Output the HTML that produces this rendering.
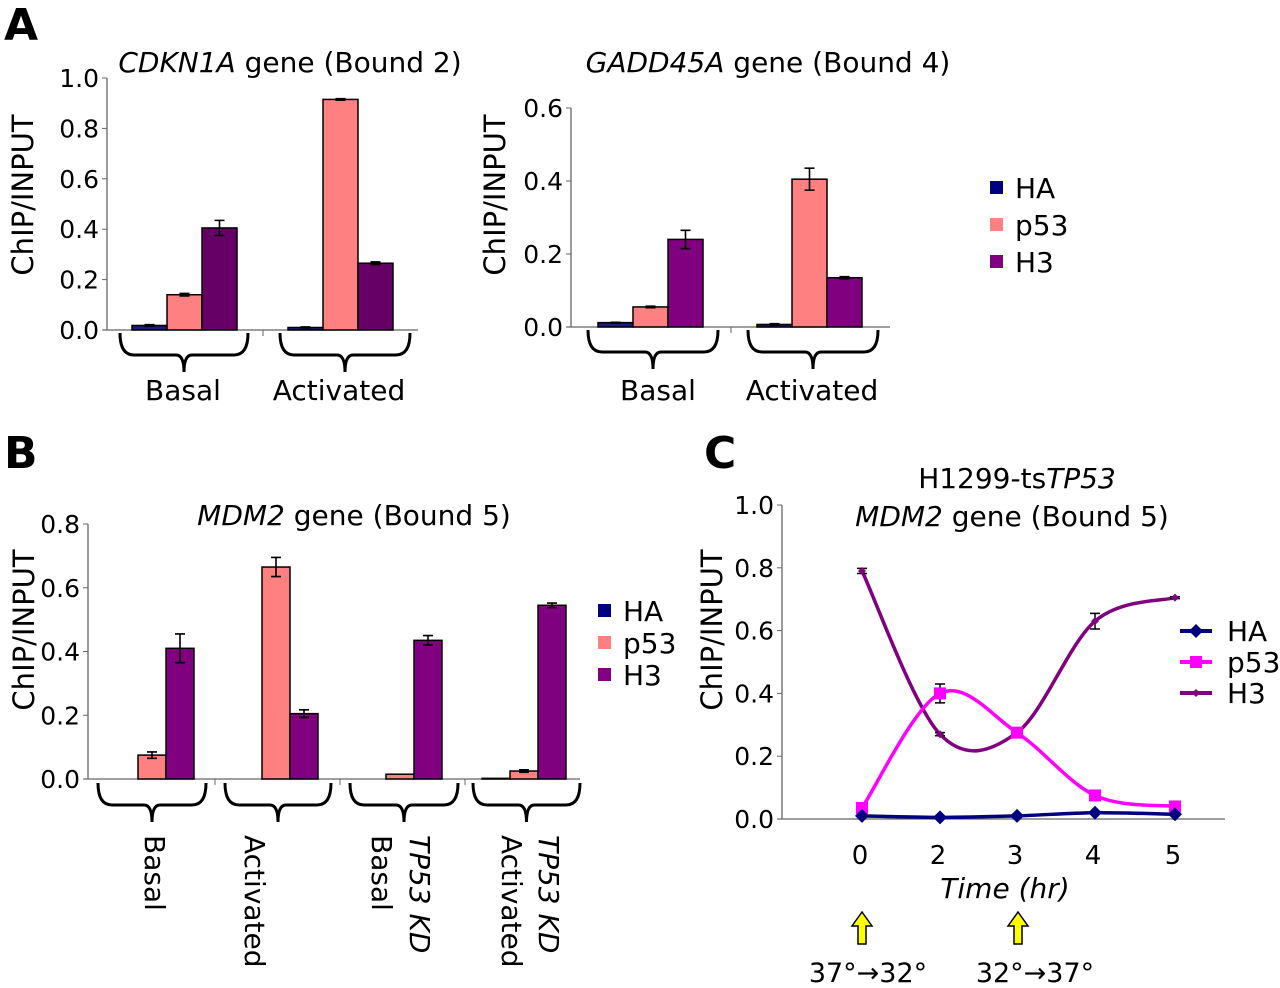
<!DOCTYPE html>
<html><head><meta charset="utf-8"><style>
body{margin:0;background:#fff}
svg{display:block;font-family:"DejaVu Sans","Liberation Sans",sans-serif}
</style></head><body>
<svg id="s" width="1280" height="988" viewBox="0 0 1280 988" xmlns="http://www.w3.org/2000/svg">
<text x="4" y="40" font-size="44" font-weight="bold">A</text>
<text x="4" y="468" font-size="44" font-weight="bold">B</text>
<text x="704" y="468" font-size="44" font-weight="bold">C</text>
</svg>
<script>
const groupsA=["Basal","Activated"];
const seriesNames=["HA","p53","H3"];
const cdknHA=[0.018,0.01], cdknP53=[0.14,0.915], cdknH3=[0.405,0.265];
const cdknErrP53=[0.005,0.003], cdknErrH3=[0.03,0.005], cdknErrHA=[0.003,0.002];
const gaddHA=[0.012,0.007], gaddP53=[0.055,0.405], gaddH3=[0.24,0.135];
const gaddErrHA=[0.001,0.002], gaddErrP53=[0.002,0.03], gaddErrH3=[0.025,0.003];
const groupsB=["Basal","Activated","TP53 KD Basal","TP53 KD Activated"];
const mdmHA=[0,0,0,0.002], mdmP53=[0.075,0.665,0.015,0.025], mdmH3=[0.41,0.205,0.435,0.545];
const mdmErrHA=[0,0,0,0], mdmErrP53=[0.01,0.03,0,0.004], mdmErrH3=[0.045,0.012,0.015,0.007];
const ticksA1=["0.0","0.2","0.4","0.6","0.8","1.0"];
const ticksA2=["0.0","0.2","0.4","0.6"];
const ticksB=["0.0","0.2","0.4","0.6","0.8"];
const timeLabels=["0","2","3","4","5"];
const lineHA=[0.01,0.005,0.01,0.02,0.015];
const lineP53=[0.035,0.40,0.275,0.075,0.04];
const lineH3=[0.79,0.27,0.275,0.63,0.705];
const errP53=[0.01,0.03,0.01,0.005,0.005];
const errH3=[0.008,0.005,0.015,0.025,0.003];

const S=document.getElementById('s');const NS="http://www.w3.org/2000/svg";
function el(t,a,p){const e=document.createElementNS(NS,t);for(const k in a)e.setAttribute(k,a[k]);(p||S).appendChild(e);return e;}
function txt(x,y,s,sz,extra){const e=el('text',Object.assign({x:x,y:y,'font-size':sz},extra||{}));e.textContent=s;return e;}

function axisY(ax,y0,y1,ticks,max,xEnd,name,labX,labY){
  const g=el('g',{});
  
  
  el('line',{x1:ax,y1:y0,x2:ax,y2:y1,stroke:'#666','stroke-width':1.3},g);
  el('line',{x1:ax-4,y1:y0,x2:xEnd,y2:y0,stroke:'#666','stroke-width':1.3},g);
  ticks.forEach((t,i)=>{const v=parseFloat(t);const y=y0-(y0-y1)*v/max;
    el('line',{x1:ax-5,y1:y,x2:ax,y2:y,stroke:'#666'},g);
    const tt=txt(ax-8,y+9,t,25,{'text-anchor':'end'});
    
    });
  const yl=txt(0,0,'ChIP/INPUT',29,{'text-anchor':'middle',transform:`translate(${labX},${labY}) rotate(-90)`});
  
  
}
function brace(x1,x2,yt,yb){
  const m=(x1+x2)/2,ym=yt+22;
  const p=el('path',{d:`M${x1},${yt} Q${x1},${ym} ${x1+14},${ym} L${m-8},${ym} Q${m},${ym} ${m},${yb} Q${m},${ym} ${m+8},${ym} L${x2-14},${ym} Q${x2},${ym} ${x2},${yt}`,fill:'none',stroke:'#000','stroke-width':3});
  
  
}
function bars(y0,yTop,max,firstX,groupSpace,bw,series,errs,colors,name){
  series.forEach((arr,s)=>{arr.forEach((v,i)=>{
    const x=firstX+i*groupSpace+s*bw;const sc=(y0-yTop)/max;const h=v*sc;
    if(v<=0)return;
    const r=el('rect',{x:x,y:y0-h,width:bw,height:h,fill:colors[s],stroke:'#000','stroke-width':1.5});
    
    
    const e=errs[s][i];if(e>0){const cx=x+bw/2,ya=y0-(v+e)*sc,yb=y0-(v-e)*sc;
      el('path',{d:`M${cx},${ya}V${yb}M${cx-5},${ya}H${cx+5}M${cx-5},${yb}H${cx+5}`,stroke:'#000','stroke-width':1.6,fill:'none'});}
  });});
}
function legendSq(x,y,colors,sp){seriesNames.forEach((n,i)=>{
  const r=el('rect',{x:x,y:y+i*sp-7,width:13,height:13,fill:colors[i]});
  
  
  const t=txt(x+25,y+i*sp+10,n,28);
  
  });}

// Panel A left
let t=txt(290,72,'',28,{'text-anchor':'middle'});t.innerHTML='<tspan font-style="italic">CDKN1A</tspan> gene (Bound 2)';

axisY(107,330,78,ticksA1,1.0,418,'cdkn1a',33,195);
el('line',{x1:263,y1:330,x2:263,y2:336,stroke:'#666'});
bars(330,78,1.0,132,156,35,[cdknHA,cdknP53,cdknH3],[cdknErrHA,cdknErrP53,cdknErrH3],['#1a1a80','#ff8080','#660066'],'cdkn1a');
brace(120,248,333,372);brace(280,410,333,372);
groupsA.forEach((g,i)=>{const e=txt([183,339][i],400,g,28,{'text-anchor':'middle'});
  });

// Panel A right
t=txt(768,72,'',28,{'text-anchor':'middle'});t.innerHTML='<tspan font-style="italic">GADD45A</tspan> gene (Bound 4)';

axisY(571,327,108,ticksA2,0.6,890,'gadd45a',505,195);
el('line',{x1:731,y1:327,x2:731,y2:333,stroke:'#666'});
bars(327,108,0.6,598,159,35,[gaddHA,gaddP53,gaddH3],[gaddErrHA,gaddErrP53,gaddErrH3],['#1a1a80','#ff8080','#800080'],'gadd45a');
brace(588,718,330,369);brace(748,878,330,369);
groupsA.forEach((g,i)=>{const e=txt([658,812][i],400,g,28,{'text-anchor':'middle'});
  });
legendSq(990,188,['#000080','#ff8080','#800080'],37);

// Panel B
t=txt(354,525,'',28,{'text-anchor':'middle'});t.innerHTML='<tspan font-style="italic">MDM2</tspan> gene (Bound 5)';

axisY(88,779,524,ticksB,0.8,580,'mdm2',34,630);
[215,340,465].forEach(x=>el('line',{x1:x,y1:779,x2:x,y2:785,stroke:'#666'}));
bars(779,524,0.8,110,124,28,[mdmHA,mdmP53,mdmH3],[mdmErrHA,mdmErrP53,mdmErrH3],['#000080','#ff8080','#800080'],'mdm2');
[[98,206],[225,331],[350,458],[473,580]].forEach(b=>brace(b[0],b[1],783,822));
function vl(cx,s,it){const x=cx-10;const e=txt(x,835,s,28,{transform:`rotate(90 ${x} 835)`,'font-style':it?'italic':'normal'});
  }
vl(155,'Basal');
vl(255,'Activated');
vl(382,'Basal');vl(420,'TP53 KD',true);
vl(512,'Activated');vl(549,'TP53 KD',true);
legendSq(598,611,['#000080','#ff8080','#800080'],32);

// Panel C
t=txt(1017,488,'',28,{'text-anchor':'middle'});t.innerHTML='H1299-ts<tspan font-style="italic">TP53</tspan>';

t=txt(1012,526,'',28,{'text-anchor':'middle'});t.innerHTML='<tspan font-style="italic">MDM2</tspan> gene (Bound 5)';

const cy0=819,cy1=505;
axisY(782,cy0,cy1,["0.0","0.2","0.4","0.6","0.8","1.0"],1.0,1225,'time-course',722,630);
const lblX=[862,940,1017,1095,1175];
const px=i=>lblX[i]; const py=v=>cy0-(cy0-cy1)*v;
timeLabels.forEach((l,i)=>{const e=txt(lblX[i]-2,864,l,26,{'text-anchor':'middle'});
  });
t=txt(1005,898,'Time (hr)',28,{'text-anchor':'middle','font-style':'italic'});

function smooth(vals){const P=vals.map((v,i)=>[px(i),py(v)]);let d=`M${P[0][0]},${P[0][1]}`;
  for(let i=0;i<P.length-1;i++){const p0=P[i-1]||P[i],p1=P[i],p2=P[i+1],p3=P[i+2]||P[i+1];
    d+=` C${p1[0]+(p2[0]-p0[0])/6},${p1[1]+(p2[1]-p0[1])/6} ${p2[0]-(p3[0]-p1[0])/6},${p2[1]-(p3[1]-p1[1])/6} ${p2[0]},${p2[1]}`;}
  return d;}
function series(vals,errs,color,marker,name){
  const p=el('path',{d:smooth(vals),fill:'none',stroke:color,'stroke-width':3.5});
  
  vals.forEach((v,i)=>{const x=px(i),y=py(v);
    if(errs&&errs[i]>0){const a=py(v+errs[i]),b=py(v-errs[i]);el('path',{d:`M${x},${a}V${b}M${x-5},${a}H${x+5}M${x-5},${b}H${x+5}`,stroke:'#000','stroke-width':1.5,fill:'none'});}
    let m;
    if(marker==='sq')m=el('rect',{x:x-6,y:y-6,width:12,height:12,fill:color});
    else{const r=marker==='d'?7:4;m=el('path',{d:`M${x},${y-r}L${x+r},${y}L${x},${y+r}L${x-r},${y}Z`,fill:color});}
    });
}
series(lineH3,errH3,'#800080','s','h3');
series(lineP53,errP53,'#ff00ff','sq','p53');
series(lineHA,null,'#000080','d','ha');
[['HA','#000080','d'],['p53','#ff00ff','sq'],['H3','#800080','s']].forEach((l,i)=>{const y=631+i*31;
  el('line',{x1:1180,y1:y,x2:1212,y2:y,stroke:l[1],'stroke-width':4});
  const x=1196;if(l[2]==='sq')el('rect',{x:x-6,y:y-6,width:12,height:12,fill:l[1]});
  else{const r=l[2]==='d'?7:4;el('path',{d:`M${x},${y-r}L${x+r},${y}L${x},${y+r}L${x-r},${y}Z`,fill:l[1]});}
  const e=txt(1227,y+10,l[0],28);});
// arrows
[862,1018].forEach(x=>{const a=el('path',{d:`M${x-4},944 V926 H${x-10} L${x},912 L${x+10},926 H${x+4} V944 Z`,fill:'#ffff00',stroke:'#000','stroke-width':1.5});
  });
t=txt(868,982,'37°→32°',27,{'text-anchor':'middle'});
t=txt(1035,982,'32°→37°',27,{'text-anchor':'middle'});
</script>
</body></html>
